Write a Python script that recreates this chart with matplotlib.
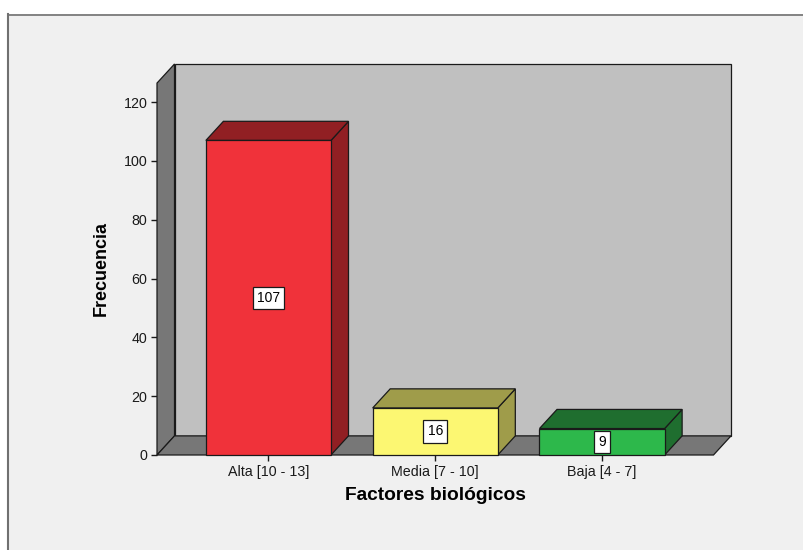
import matplotlib.pyplot as plt
from matplotlib.patches import Polygon, Rectangle

plt.rcParams['font.family'] = ['Liberation Sans', 'DejaVu Sans']

categorias = ['Alta [10 - 13]', 'Media [7 - 10]', 'Baja [4 - 7]']
frecuencias = [107, 16, 9]
color_frente = ['#F0323A', '#FCF772', '#2DB84B']
color_lado = ['#911F23', '#9F9C4A', '#1F6E2F']
yticks = [0, 20, 40, 60, 80, 100, 120]

# pseudo 3D geometry (data units)
x0, x1 = -0.668, 2.668       # front floor edge
ytop = 126.5                 # front top of the left wall
dx, dy = 0.105, 6.5          # depth offset
ancho = 0.75

fig = plt.figure(figsize=(8.04, 5.5), dpi=100)
fig.patch.set_facecolor('white')

# SPSS style frame
fig.patches.append(Rectangle((7 / 804, 0), 1, 1 - 14 / 550, transform=fig.transFigure,
                             facecolor='#F0F0F0', edgecolor='none', zorder=-10))
fig.lines.append(plt.Line2D([8 / 804, 8 / 804], [0, 1 - 14 / 550], transform=fig.transFigure,
                            color='#707070', lw=1.5))
fig.lines.append(plt.Line2D([8 / 804, 1], [1 - 14.5 / 550, 1 - 14.5 / 550], transform=fig.transFigure,
                            color='#707070', lw=1.2))

ax = fig.add_axes([157 / 804, 95 / 550, 574 / 804, 391 / 550])
ax.set_xlim(x0, x1 + dx)
ax.set_ylim(0, 391 / 2.94)
ax.patch.set_visible(False)
for s in ax.spines.values():
    s.set_visible(False)

ec = dict(edgecolor='#1A1A1A', linewidth=0.9, clip_on=False)

# walls and floor
ax.add_patch(Rectangle((x0 + dx, dy), x1 - x0, ytop, facecolor='#C0C0C0', zorder=1, **ec))
ax.add_patch(Polygon([(x0, 0), (x0, ytop), (x0 + dx, ytop + dy), (x0 + dx, dy)],
                     facecolor='#777777', zorder=2, **ec))
ax.add_patch(Polygon([(x0, 0), (x1, 0), (x1 + dx, dy), (x0 + dx, dy)],
                     facecolor='#777777', zorder=2, **ec))

# bars
for i, v in enumerate(frecuencias):
    l, r = i - ancho / 2, i + ancho / 2
    ax.add_patch(Polygon([(r, 0), (r + dx, dy), (r + dx, v + dy), (r, v)],
                         facecolor=color_lado[i], zorder=3, **ec))
    ax.add_patch(Polygon([(l, v), (r, v), (r + dx, v + dy), (l + dx, v + dy)],
                         facecolor=color_lado[i], zorder=3, **ec))
    ax.add_patch(Rectangle((l, 0), ancho, v, facecolor=color_frente[i], zorder=4, **ec))
    ax.text(i, v / 2, str(v), ha='center', va='center', fontsize=10, zorder=5,
            bbox=dict(boxstyle='square,pad=0.3', facecolor='white', edgecolor='#1A1A1A', linewidth=0.9))

ax.set_yticks(yticks)
ax.set_xticks(range(len(categorias)))
ax.set_xticklabels(categorias)
ax.tick_params(axis='both', direction='out', length=4.5, width=1, color='#1A1A1A',
               labelsize=10.3, labelcolor='#1A1A1A', pad=2.5)

fig.text(435 / 804, 1 - 496 / 550, 'Factores biológicos', ha='center', va='center',
         fontsize=13.8, fontweight='bold')
fig.text(101 / 804, 1 - 269 / 550, 'Frecuencia', ha='center', va='center', rotation=90,
         fontsize=13, fontweight='bold')

fig.savefig('out.png', dpi=100, facecolor=fig.get_facecolor())
